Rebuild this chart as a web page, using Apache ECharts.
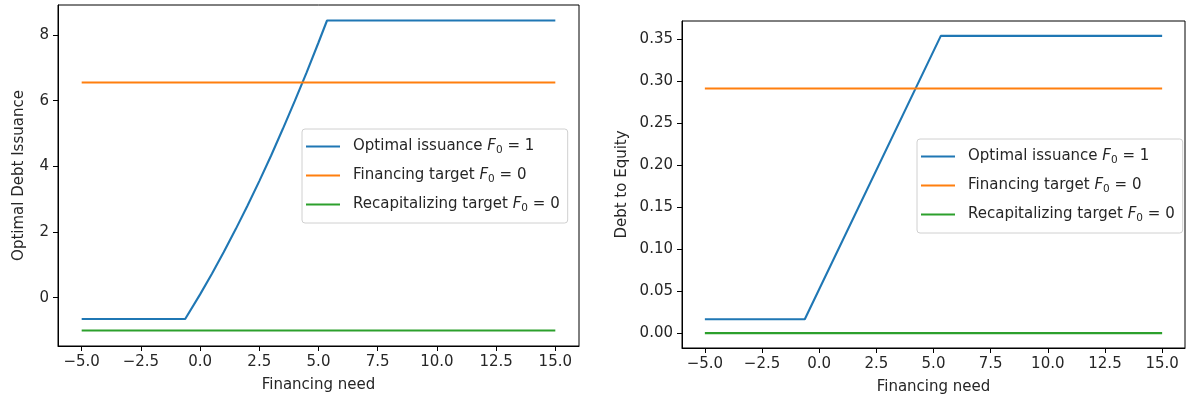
<!DOCTYPE html>
<html>
<head>
<meta charset="utf-8">
<script src="https://cdn.jsdelivr.net/npm/echarts@6/dist/echarts.min.js"></script>
<style>
  html, body { margin: 0; padding: 0; background: #fff; }
  #chart { width: 1187px; height: 402px; }
</style>
</head>
<body>
<div id="chart"></div>
<script>
// Financing need (x) for each panel
const needLeft = [-5, -0.63, 0, 0.5, 1, 1.5, 2, 2.5, 3, 3.5, 4, 4.5, 5, 5.36, 15];
const issuanceOptimal = [-0.65, -0.65, 0.10, 0.73, 1.39, 2.08, 2.80, 3.55, 4.33, 5.15, 5.99, 6.86, 7.77, 8.44, 8.44];
const needFlat = [-5, 15];
const issuanceFinancing = [6.55, 6.55];
const issuanceRecap = [-1.0, -1.0];

const needRight = [-5, -0.63, 5.32, 15];
const equityOptimal = [0.0166, 0.0166, 0.354, 0.354];
const equityFinancing = [0.2914, 0.2914];
const equityRecap = [0.0, 0.0];

const xTicks = [-5, -2.5, 0, 2.5, 5, 7.5, 10, 12.5, 15];
const yTicksLeft = [0, 2, 4, 6, 8];
const yTicksRight = [0, 0.05, 0.10, 0.15, 0.20, 0.25, 0.30, 0.35];

const seriesNames = ['Optimal issuance F\u2080 = 1', 'Financing target F\u2080 = 0', 'Recapitalizing target F\u2080 = 0'];
const legendRich = [
  '{n|Optimal issuance }{f|F}{s|0}{n| = 1}',
  '{n|Financing target }{f|F}{s|0}{n| = 0}',
  '{n|Recapitalizing target }{f|F}{s|0}{n| = 0}'
];
const colors = ['#1f77b4', '#ff7f0e', '#2ca02c'];

const FONT = 'DejaVu Sans';
const FS = 15;
const TXT = '#262626';

const pairs = (xs, ys) => xs.map((x, i) => [x, ys[i]]);
const minus = s => s.replace('-', '\u2212');

function padRange(vals) {
  const lo = Math.min(...vals), hi = Math.max(...vals);
  const m = (hi - lo) * 0.05;
  return [lo - m, hi + m];
}

const yRangeL = padRange([...issuanceOptimal, ...issuanceFinancing, ...issuanceRecap]);
const yRangeR = padRange([...equityOptimal, ...equityFinancing, ...equityRecap]);

function xAxis(gridIndex) {
  return {
    type: 'value', gridIndex, min: -6, max: 16,
    name: 'Financing need', nameLocation: 'middle', nameGap: 32,
    nameTextStyle: { fontFamily: FONT, fontSize: FS, color: TXT },
    axisLine: { show: true, onZero: false, lineStyle: { color: '#000', width: 1 } },
    axisTick: { show: true, inside: false, length: 5, lineStyle: { color: '#000', width: 1 }, customValues: xTicks },
    axisLabel: { show: true, margin: 9, fontFamily: FONT, fontSize: FS, color: TXT,
      customValues: xTicks, formatter: v => minus(v.toFixed(1)) },
    splitLine: { show: false }
  };
}

function yAxis(gridIndex, range, ticks, digits, title, gap) {
  return {
    type: 'value', gridIndex, min: range[0], max: range[1],
    name: title, nameLocation: 'middle', nameGap: gap, nameRotate: 90,
    nameTextStyle: { fontFamily: FONT, fontSize: FS, color: TXT },
    axisLine: { show: true, onZero: false, lineStyle: { color: '#000', width: 1 } },
    axisTick: { show: true, inside: false, length: 5, lineStyle: { color: '#000', width: 1 }, customValues: ticks },
    axisLabel: { show: true, margin: 9, fontFamily: FONT, fontSize: FS, color: TXT,
      customValues: ticks, formatter: v => minus(v.toFixed(digits)) },
    splitLine: { show: false }
  };
}

function line(name, xi, xs, ys, color) {
  return {
    type: 'line', name, xAxisIndex: xi, yAxisIndex: xi,
    data: pairs(xs, ys), showSymbol: false, symbol: 'none', animation: false,
    lineStyle: { color, width: 2.1 }, itemStyle: { color }, z: 2
  };
}

function legend(left, top) {
  return {
    left, top, orient: 'vertical', icon: 'rect',
    itemWidth: 34, itemHeight: 2, itemGap: 10,
    padding: [8, 8, 9, 4],
    backgroundColor: 'rgba(255,255,255,0.8)', borderColor: '#d0d0d0', borderWidth: 1, borderRadius: 3,
    data: seriesNames,
    formatter: name => legendRich[seriesNames.indexOf(name)],
    textStyle: {
      padding: [0, 0, 0, 8],
      fontFamily: FONT, fontSize: FS, color: TXT, lineHeight: 16,
      rich: {
        n: { fontFamily: FONT, fontSize: FS, color: TXT, lineHeight: 16 },
        f: { fontFamily: FONT, fontSize: FS, fontStyle: 'italic', color: TXT, lineHeight: 16 },
        s: { fontFamily: FONT, fontSize: 10.5, color: TXT, lineHeight: 8, padding: [8, 0, 0, 0] }
      }
    }
  };
}

const chart = echarts.init(document.getElementById('chart'), null, { renderer: 'canvas' });
chart.setOption({
  animation: false,
  backgroundColor: '#fff',
  grid: [
    { left: 58, top: 5, width: 521, height: 341, show: true, borderColor: '#000', borderWidth: 1, backgroundColor: 'transparent', containLabel: false },
    { left: 682, top: 21, width: 503, height: 327, show: true, borderColor: '#000', borderWidth: 1, backgroundColor: 'transparent', containLabel: false }
  ],
  xAxis: [xAxis(0), xAxis(1)],
  yAxis: [
    yAxis(0, yRangeL, yTicksLeft, 0, 'Optimal Debt Issuance', 31),
    yAxis(1, yRangeR, yTicksRight, 2, 'Debt to Equity', 52)
  ],
  legend: [legend(302, 129), legend(917, 139)],
  series: [
    line(seriesNames[0], 0, needLeft, issuanceOptimal, colors[0]),
    line(seriesNames[1], 0, needFlat, issuanceFinancing, colors[1]),
    line(seriesNames[2], 0, needFlat, issuanceRecap, colors[2]),
    line(seriesNames[0], 1, needRight, equityOptimal, colors[0]),
    line(seriesNames[1], 1, needFlat, equityFinancing, colors[1]),
    line(seriesNames[2], 1, needFlat, equityRecap, colors[2])
  ]
});
</script>
</body>
</html>
